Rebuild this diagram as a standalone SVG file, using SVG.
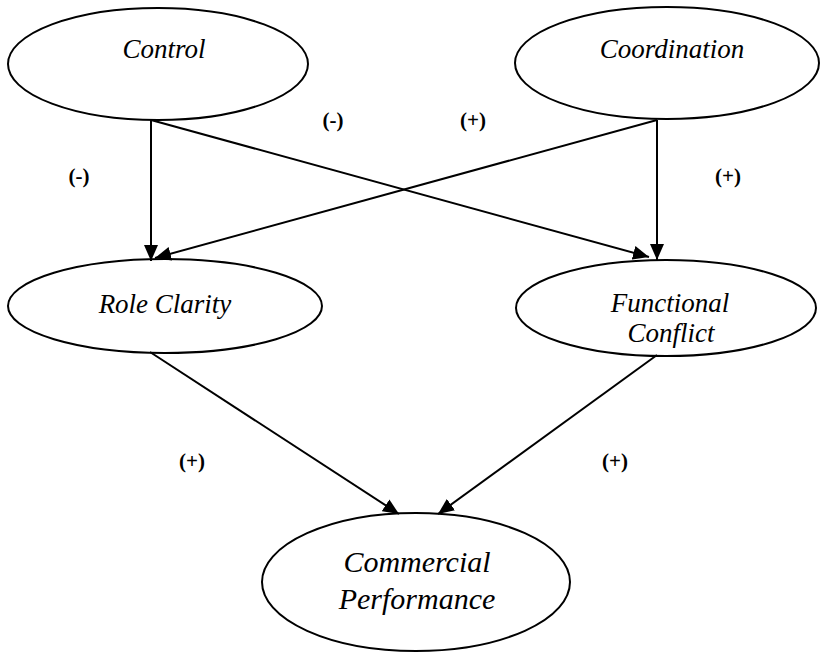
<svg xmlns="http://www.w3.org/2000/svg" width="821" height="654" viewBox="0 0 821 654">
<defs>
<marker id="arr" markerUnits="userSpaceOnUse" markerWidth="17" markerHeight="15" refX="16" refY="7" orient="auto">
<path d="M0,0 L16,7 L0,14 z" fill="#000"/>
</marker>
</defs>
<rect width="821" height="654" fill="#fff"/>
<g id="connectors" stroke="#000" stroke-width="2" fill="none" marker-end="url(#arr)">
<line x1="151" y1="120" x2="151" y2="261"/>
<line x1="151" y1="120" x2="649" y2="257"/>
<line x1="657" y1="120" x2="657" y2="260"/>
<line x1="657" y1="120" x2="155" y2="258"/>
<line x1="150" y1="352" x2="399" y2="514"/>
<line x1="657" y1="355" x2="438" y2="514"/>
</g>
<g id="control">
<ellipse cx="158" cy="64" rx="150" ry="56" fill="none" stroke="#000" stroke-width="2"/>
<line x1="291" y1="98" x2="307" y2="87" stroke="#fff" stroke-width="4"/>
<text x="164" y="58" text-anchor="middle" font-family="Liberation Serif, Times New Roman, serif" font-style="italic" font-size="27">Control</text>
</g>
<g id="coordination">
<ellipse cx="667" cy="63" rx="152" ry="56" fill="none" stroke="#000" stroke-width="2"/>
<text x="672" y="58" text-anchor="middle" font-family="Liberation Serif, Times New Roman, serif" font-style="italic" font-size="27">Coordination</text>
</g>
<g id="role-clarity">
<ellipse cx="165" cy="306" rx="157" ry="47" fill="none" stroke="#000" stroke-width="2"/>
<text x="165" y="313" text-anchor="middle" font-family="Liberation Serif, Times New Roman, serif" font-style="italic" font-size="27">Role Clarity</text>
</g>
<g id="functional-conflict">
<ellipse cx="666" cy="308" rx="150" ry="48" fill="none" stroke="#000" stroke-width="2"/>
<text x="670" y="312" text-anchor="middle" font-family="Liberation Serif, Times New Roman, serif" font-style="italic" font-size="27">Functional</text>
<text x="671" y="342" text-anchor="middle" font-family="Liberation Serif, Times New Roman, serif" font-style="italic" font-size="27">Conflict</text>
</g>
<g id="commercial-performance">
<ellipse cx="416" cy="582" rx="154" ry="69" fill="none" stroke="#000" stroke-width="2"/>
<text x="417" y="572" text-anchor="middle" font-family="Liberation Serif, Times New Roman, serif" font-style="italic" font-size="30">Commercial</text>
<text x="417" y="609" text-anchor="middle" font-family="Liberation Serif, Times New Roman, serif" font-style="italic" font-size="30">Performance</text>
</g>
<g id="signs">
<text x="333" y="127" text-anchor="middle" font-family="Liberation Serif, Times New Roman, serif" font-weight="bold" font-size="21">(-)</text>
<text x="473" y="127" text-anchor="middle" font-family="Liberation Serif, Times New Roman, serif" font-weight="bold" font-size="21">(+)</text>
<text x="79" y="183" text-anchor="middle" font-family="Liberation Serif, Times New Roman, serif" font-weight="bold" font-size="21">(-)</text>
<text x="728" y="183" text-anchor="middle" font-family="Liberation Serif, Times New Roman, serif" font-weight="bold" font-size="21">(+)</text>
<text x="192" y="468" text-anchor="middle" font-family="Liberation Serif, Times New Roman, serif" font-weight="bold" font-size="21">(+)</text>
<text x="615" y="468" text-anchor="middle" font-family="Liberation Serif, Times New Roman, serif" font-weight="bold" font-size="21">(+)</text>
</g>
</svg>
